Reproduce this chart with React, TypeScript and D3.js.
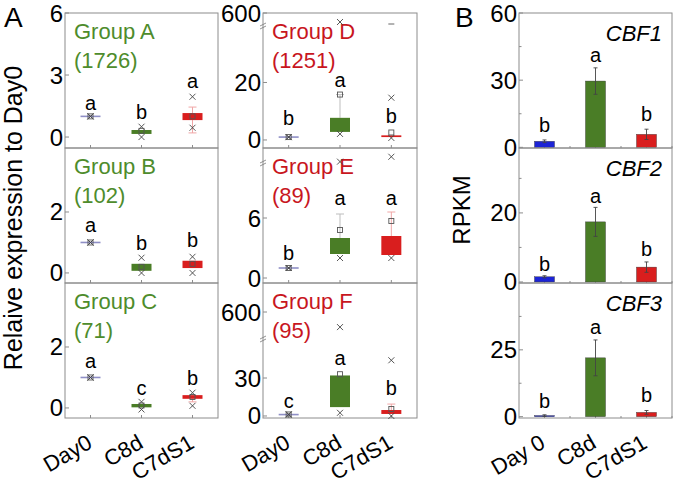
import React from "react";
import * as d3 from "d3";

// ---------------- DATA ----------------
const categories = ["Day0", "C8d", "C7dS1"];
const categoriesB = ["Day 0", "C8d", "C7dS1"];

const groupNames = ["Group A", "Group B", "Group C", "Group D", "Group E", "Group F"];
const groupSizes = ["(1726)", "(102)", "(71)", "(1251)", "(89)", "(95)"];

type Box = { q1: number; q3: number; mean: number; lo: number; hi: number; pLo: number; pHi: number; max?: number };

const groupABoxes: Box[] = [
  { q1: 1, q3: 1, mean: 1, lo: 1, hi: 1, pLo: 1, pHi: 1 },
  { q1: 0.15, q3: 0.34, mean: 0.3, lo: 0.15, hi: 0.34, pLo: 0.0, pHi: 0.5 },
  { q1: 0.82, q3: 1.16, mean: 1.0, lo: 0.2, hi: 1.45, pLo: 0.45, pHi: 1.95 },
];
const groupBBoxes: Box[] = [
  { q1: 1, q3: 1, mean: 1, lo: 1, hi: 1, pLo: 1, pHi: 1 },
  { q1: 0.07, q3: 0.3, mean: 0.2, lo: 0.07, hi: 0.3, pLo: 0.0, pHi: 0.5 },
  { q1: 0.16, q3: 0.4, mean: 0.3, lo: 0.16, hi: 0.4, pLo: 0.0, pHi: 0.53 },
];
const groupCBoxes: Box[] = [
  { q1: 1, q3: 1, mean: 1, lo: 1, hi: 1, pLo: 1, pHi: 1 },
  { q1: 0.02, q3: 0.13, mean: 0.08, lo: 0.02, hi: 0.13, pLo: -0.05, pHi: 0.2 },
  { q1: 0.3, q3: 0.42, mean: 0.36, lo: 0.2, hi: 0.42, pLo: 0.07, pHi: 0.5 },
];
const groupDBoxes: Box[] = [
  { q1: 1, q3: 1, mean: 1, lo: 1, hi: 1, pLo: 1, pHi: 1 },
  { q1: 2.8, q3: 7.7, mean: 15.8, lo: 2.8, hi: 15.8, pLo: 2.1, pHi: 375 },
  { q1: 1.0, q3: 1.6, mean: 2.6, lo: 1.0, hi: 1.6, pLo: 0.7, pHi: 14.7, max: 325 },
];
const groupEBoxes: Box[] = [
  { q1: 1, q3: 1, mean: 1, lo: 1, hi: 1, pLo: 1, pHi: 1 },
  { q1: 2.4, q3: 4.0, mean: 4.8, lo: 2.4, hi: 6.4, pLo: 2.0, pHi: 22 },
  { q1: 2.3, q3: 4.2, mean: 5.7, lo: 2.3, hi: 6.6, pLo: 2.0, pHi: 50 },
];
const groupFBoxes: Box[] = [
  { q1: 0.6, q3: 1.6, mean: 1.2, lo: 0.6, hi: 1.6, pLo: 1, pHi: 1.4 },
  { q1: 7, q3: 32, mean: 33, lo: 7, hi: 32, pLo: 2.5, pHi: 310 },
  { q1: 1.6, q3: 4.7, mean: 5.5, lo: 1.6, hi: 9.4, pLo: 0, pHi: 44 },
];

const groupALetters = ["a", "b", "a"];
const groupBLetters = ["a", "b", "b"];
const groupCLetters = ["a", "c", "b"];
const groupDLetters = ["b", "a", "b"];
const groupELetters = ["b", "a", "a"];
const groupFLetters = ["c", "a", "b"];
const groupALetterAt = [1.31, 0.87, 2.37];
const groupBLetterAt = [1.34, 0.75, 0.85];
const groupCLetterAt = [1.31, 0.43, 0.75];
const groupDLetterAt = [5.3, 18.6, 6.0];
const groupELetterAt = [1.8, 7.3, 7.3];
const groupFLetterAt = [6.3, 40, 16.5];

const groupATicks = [0, 3, 6];
const groupBTicks = [0, 2];
const groupCTicks = [0, 2];
const groupDTicks = [0, 20, 600];
const groupETicks = [0, 6];
const groupFTicks = [0, 30, 600];

const cbfNames = ["CBF1", "CBF2", "CBF3"];
const cbf1Means = [2.7, 29.6, 5.8];
const cbf1Errs = [0.6, 5.9, 2.3];
const cbf2Means = [1.5, 17.4, 4.3];
const cbf2Errs = [0.3, 4.2, 1.5];
const cbf3Means = [0.4, 22, 1.6];
const cbf3Errs = [0.3, 6.7, 0.7];
const cbf1Letters = ["b", "a", "b"];
const cbf2Letters = ["b", "a", "b"];
const cbf3Letters = ["b", "a", "b"];
const cbf1LetterAt = [6.7, 38, 11.6];
const cbf2LetterAt = [3.2, 22.9, 7.5];
const cbf3LetterAt = [3.4, 31, 5.6];
const cbf1Ticks = [0, 30, 60];
const cbf2Ticks = [0, 20];
const cbf3Ticks = [0, 25];
const cbf1Minor = [15, 45];
const cbf2Minor = [10, 30];
const cbf3Minor = [12.5, 37.5];

// ---------------- STYLE / LAYOUT ----------------
const FONT = "'Liberation Sans', Arial, Helvetica, sans-serif";
const GREEN = "#4a7d26";
const RED = "#d91e1e";
const BLUE = "#1c24d6";
const DAY0 = "#8f8fc6";
const GREEN_TXT = "#4e8c2c";
const RED_TXT = "#c8161e";
const AXIS = "#8c8c8c";
const TICK_FS = 24;
const boxFill = [DAY0, GREEN, RED];
const whiskerCol = ["#b0b0d0", "#bdbdbd", "#f0a6a6"];

const ROW_TOPS = [13, 148, 283];
const ROW_H = 135;
const COLS = [
  { left: 65, right: 218 },
  { left: 263, right: 417 },
  { left: 519, right: 672 },
];

type Panel = {
  name: string; size: string; boxes: Box[]; letters: string[]; letterAt: number[]; ticks: number[];
  col: number; row: number; domain?: number[]; broken?: { lower: number[]; upper: number[]; gap: number };
  textColor: string;
};

const panels: Panel[] = [
  { name: groupNames[0], size: groupSizes[0], boxes: groupABoxes, letters: groupALetters, letterAt: groupALetterAt, ticks: groupATicks, col: 0, row: 0, domain: [-0.53, 6], textColor: GREEN_TXT },
  { name: groupNames[1], size: groupSizes[1], boxes: groupBBoxes, letters: groupBLetters, letterAt: groupBLetterAt, ticks: groupBTicks, col: 0, row: 1, domain: [-0.33, 4.1], textColor: GREEN_TXT },
  { name: groupNames[2], size: groupSizes[2], boxes: groupCBoxes, letters: groupCLetters, letterAt: groupCLetterAt, ticks: groupCTicks, col: 0, row: 2, domain: [-0.33, 4.1], textColor: GREEN_TXT },
  { name: groupNames[3], size: groupSizes[3], boxes: groupDBoxes, letters: groupDLetters, letterAt: groupDLetterAt, ticks: groupDTicks, col: 1, row: 0, broken: { lower: [-2.8, 40], upper: [300, 600], gap: 12 }, textColor: RED_TXT },
  { name: groupNames[4], size: groupSizes[4], boxes: groupEBoxes, letters: groupELetters, letterAt: groupELetterAt, ticks: groupETicks, col: 1, row: 1, broken: { lower: [-0.5, 11.6], upper: [20, 100], gap: 14 }, textColor: RED_TXT },
  { name: groupNames[5], size: groupSizes[5], boxes: groupFBoxes, letters: groupFLetters, letterAt: groupFLetterAt, ticks: groupFTicks, col: 1, row: 2, broken: { lower: [-1.6, 61.6], upper: [100, 1158], gap: 55 }, textColor: RED_TXT },
];

const barPanels = [
  { name: cbfNames[0], means: cbf1Means, errs: cbf1Errs, letters: cbf1Letters, letterAt: cbf1LetterAt, ticks: cbf1Ticks, minor: cbf1Minor, domain: [-0.3, 60], row: 0 },
  { name: cbfNames[1], means: cbf2Means, errs: cbf2Errs, letters: cbf2Letters, letterAt: cbf2LetterAt, ticks: cbf2Ticks, minor: cbf2Minor, domain: [-0.3, 38.8], row: 1 },
  { name: cbfNames[2], means: cbf3Means, errs: cbf3Errs, letters: cbf3Letters, letterAt: cbf3LetterAt, ticks: cbf3Ticks, minor: cbf3Minor, domain: [-0.5, 50], row: 2 },
];

function makeY(p: Panel, top: number, bottom: number) {
  if (!p.broken) {
    const s = d3.scaleLinear().domain(p.domain as number[]).range([bottom, top]);
    return (v: number) => s(v);
  }
  const by = top + p.broken.gap;
  const lo = d3.scaleLinear().domain(p.broken.lower).range([bottom, by]);
  const hi = d3.scaleLinear().domain(p.broken.upper).range([by, top]);
  const cut = p.broken.lower[1];
  return (v: number) => (v <= cut ? lo(v) : hi(v));
}

function Cross({ x, y }: { x: number; y: number }) {
  const r = 3;
  return (
    <g stroke="#444" strokeWidth={0.9}>
      <line x1={x - r} y1={y - r} x2={x + r} y2={y + r} />
      <line x1={x - r} y1={y + r} x2={x + r} y2={y - r} />
    </g>
  );
}

function XLabel({ x, y, text }: { x: number; y: number; text: string }) {
  return (
    <text transform={`translate(${x},${y}) rotate(-30)`} textAnchor="end" fontSize={22} fontFamily={FONT} fill="#000">{text}</text>
  );
}

function BoxPanel({ p }: { p: Panel }) {
  const col = COLS[p.col];
  const top = ROW_TOPS[p.row];
  const bottom = top + ROW_H;
  const x = d3.scalePoint<string>().domain(categories).range([col.left, col.right]).padding(0.5);
  const y = makeY(p, top, bottom);
  const bw = 20;
  return (
    <g>
      <rect x={col.left} y={top} width={col.right - col.left} height={ROW_H} fill="none" stroke={AXIS} strokeWidth={1} />
      {p.ticks.map((t) => (
        <g key={"t" + t}>
          <line x1={col.left} x2={col.left + 4} y1={y(t)} y2={y(t)} stroke={AXIS} />
          <text x={col.left - 2} y={y(t) + 8.5} textAnchor="end" fontSize={TICK_FS} fontFamily={FONT} fill="#000">{t}</text>
        </g>
      ))}
      {categories.map((c) => (
        <line key={"bt" + c} x1={x(c)} x2={x(c)} y1={bottom} y2={bottom - 3} stroke={AXIS} />
      ))}
      {p.broken && (
        <g stroke="#777" strokeWidth={0.8}>
          <line x1={col.left - 3} y1={top + p.broken.gap + 1} x2={col.left + 3} y2={top + p.broken.gap - 2} />
          <line x1={col.left - 3} y1={top + p.broken.gap + 4} x2={col.left + 3} y2={top + p.broken.gap + 1} />
        </g>
      )}
      <text x={col.left + 9} y={top + 26} fontSize={22} fontFamily={FONT} fill={p.textColor}>{p.name}</text>
      <text x={col.left + 9} y={top + 55} fontSize={22} fontFamily={FONT} fill={p.textColor}>{p.size}</text>
      {p.boxes.map((b, i) => {
        const cx = x(categories[i]) as number;
        const y1 = y(b.q3);
        const y2 = y(b.q1);
        const h = Math.max(1.6, y2 - y1);
        const yTop = h === 1.6 ? (y1 + y2) / 2 - 0.8 : y1;
        return (
          <g key={"b" + i}>
            {b.hi > b.q3 && (
              <g stroke={whiskerCol[i]} strokeWidth={1}>
                <line x1={cx} x2={cx} y1={y(b.q3)} y2={y(b.hi)} />
                <line x1={cx - 4} x2={cx + 4} y1={y(b.hi)} y2={y(b.hi)} />
              </g>
            )}
            {b.lo < b.q1 && (
              <g stroke={whiskerCol[i]} strokeWidth={1}>
                <line x1={cx} x2={cx} y1={y(b.q1)} y2={y(b.lo)} />
                <line x1={cx - 4} x2={cx + 4} y1={y(b.lo)} y2={y(b.lo)} />
              </g>
            )}
            <rect x={cx - bw / 2} y={yTop} width={bw} height={h} fill={boxFill[i]} />
            <Cross x={cx} y={y(b.pLo)} />
            <Cross x={cx} y={y(b.pHi)} />
            {b.max !== undefined && (
              <line x1={cx - 3} x2={cx + 3} y1={y(b.max)} y2={y(b.max)} stroke="#666" strokeWidth={1} />
            )}
            <rect x={cx - 2.5} y={y(b.mean) - 2.5} width={5} height={5} fill="none" stroke="#555" strokeWidth={0.9} />
            <text x={cx} y={y(p.letterAt[i])} textAnchor="middle" fontSize={20} fontFamily={FONT} fill="#000">{p.letters[i]}</text>
          </g>
        );
      })}
      {p.row === 2 && categories.map((c) => <XLabel key={"xl" + c} x={(x(c) as number) + 3} y={bottom + 29} text={c} />)}
    </g>
  );
}

function BarPanel({ p }: { p: (typeof barPanels)[number] }) {
  const col = COLS[2];
  const top = ROW_TOPS[p.row];
  const bottom = top + ROW_H;
  const x = d3.scalePoint<string>().domain(categoriesB).range([col.left, col.right]).padding(0.5);
  const y = d3.scaleLinear().domain(p.domain).range([bottom, top]);
  const barColors = [BLUE, GREEN, RED];
  const bw = 20;
  const step = x.step();
  return (
    <g>
      <rect x={col.left} y={top} width={col.right - col.left} height={ROW_H} fill="none" stroke={AXIS} strokeWidth={1} />
      {p.ticks.map((t) => (
        <g key={"t" + t}>
          <line x1={col.left} x2={col.left + 4} y1={y(t)} y2={y(t)} stroke={AXIS} />
          <text x={col.left - 2} y={y(t) + 8.5} textAnchor="end" fontSize={TICK_FS} fontFamily={FONT} fill="#000">{t}</text>
        </g>
      ))}
      {p.minor.map((t) => (
        <line key={"m" + t} x1={col.left} x2={col.left + 2.5} y1={y(t)} y2={y(t)} stroke={AXIS} />
      ))}
      {categoriesB.map((c) => (
        <g key={"bt" + c}>
          <line x1={x(c)} x2={x(c)} y1={bottom} y2={bottom - 3} stroke={AXIS} />
          <line x1={(x(c) as number) + step / 2} x2={(x(c) as number) + step / 2} y1={bottom} y2={bottom - 2} stroke={AXIS} />
        </g>
      ))}
      <text x={col.right - 10} y={top + 28} textAnchor="end" fontSize={22} fontStyle="italic" fontFamily={FONT} fill="#000">{p.name}</text>
      {p.means.map((m, i) => {
        const cx = x(categoriesB[i]) as number;
        return (
          <g key={"bar" + i}>
            <rect x={cx - bw / 2} y={y(m)} width={bw} height={y(0) - y(m)} fill={barColors[i]} stroke="#333" strokeWidth={0.4} />
            <g stroke="#444" strokeWidth={0.9}>
              <line x1={cx} x2={cx} y1={y(m - p.errs[i])} y2={y(m + p.errs[i])} />
              <line x1={cx - 2} x2={cx + 2} y1={y(m + p.errs[i])} y2={y(m + p.errs[i])} />
              <line x1={cx - 2} x2={cx + 2} y1={y(m - p.errs[i])} y2={y(m - p.errs[i])} />
            </g>
            <text x={cx} y={y(p.letterAt[i])} textAnchor="middle" fontSize={20} fontFamily={FONT} fill="#000">{p.letters[i]}</text>
          </g>
        );
      })}
      {p.row === 2 && categoriesB.map((c) => <XLabel key={"xl" + c} x={(x(c) as number) + 2} y={bottom + 29} text={c} />)}
    </g>
  );
}

export default function App() {
  return (
    <svg width={677} height={480} style={{ position: "absolute", left: 0, top: 0, background: "#fff" }}>
      <rect width={677} height={480} fill="#fff" />
      <text x={4} y={27} fontSize={28} fontFamily={FONT} fill="#000">A</text>
      <text x={455} y={27} fontSize={28} fontFamily={FONT} fill="#000">B</text>
      <text transform="translate(22,218) rotate(-90)" textAnchor="middle" fontSize={25} fontFamily={FONT} fill="#000">Relaive expression to Day0</text>
      <text transform="translate(470,210) rotate(-90)" textAnchor="middle" fontSize={24} fontFamily={FONT} fill="#000">RPKM</text>
      {panels.map((p) => (
        <BoxPanel key={p.name} p={p} />
      ))}
      {barPanels.map((p) => (
        <BarPanel key={p.name} p={p} />
      ))}
    </svg>
  );
}
